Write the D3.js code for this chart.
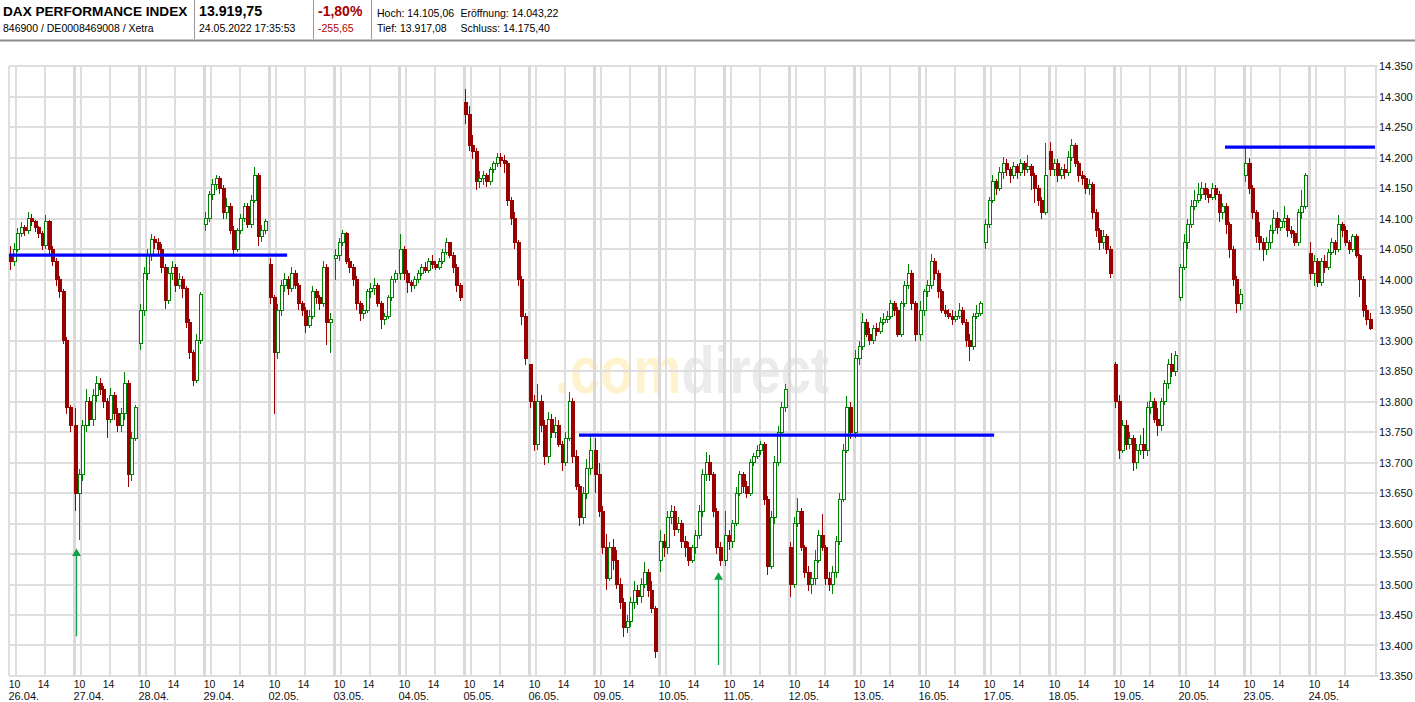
<!DOCTYPE html>
<html><head><meta charset="utf-8">
<script src="https://cdn.jsdelivr.net/npm/d3@7"></script>
<style>
body{margin:0;background:#fff;}
svg{display:block;font-family:"Liberation Sans",Arial,Helvetica,sans-serif;}
</style>
</head><body>
<svg id="chart" width="1415" height="702"></svg>
<script>
// ---------------- DATA ----------------
const days = ["26.04.","27.04.","28.04.","29.04.","02.05.","03.05.","04.05.","05.05.","06.05.","09.05.","10.05.","11.05.","12.05.","13.05.","16.05.","17.05.","18.05.","19.05.","20.05.","23.05.","24.05."];
const hourTicks = [10, 14];
const yTicks = [13350,13400,13450,13500,13550,13600,13650,13700,13750,13800,13850,13900,13950,14000,14050,14100,14150,14200,14250,14300,14350];

const opens = [
[14040,14030,14050,14075,14085,14080,14100,14095,14085,14075,14055,14095,14050,14030,14000,13980,13900,13790],
[13760,13650,13680,13760,13800,13770,13810,13830,13820,13800,13770,13810,13780,13760,13780,13830,13680,13740],
[13895,13950,14010,14040,14065,14060,14050,14020,13965,14010,14020,13990,14000,13985,13930,13880,13835,13900],
[14090,14100,14140,14155,14165,14150,14110,14120,14080,14050,14080,14100,14120,14090,14130,14170,14070,14080],
[14025,13970,13880,13950,13990,14000,13985,14010,13990,13960,13950,13925,13940,13980,13970,13960,14020,13930],
[14035,14040,14060,14075,14030,14020,14000,13960,13945,13950,13980,13985,13990,13960,13935,13940,13970,14000],
[14010,14050,14010,13995,13990,14000,14010,14020,14015,14030,14025,14020,14030,14045,14060,14040,14020,13990],
[14290,14270,14220,14210,14160,14165,14170,14160,14180,14190,14200,14195,14190,14130,14100,14060,14000,13940],
[13860,13800,13730,13800,13760,13710,13770,13750,13760,13730,13700,13740,13800,13710,13660,13610,13650,13690],
[13720,13680,13620,13560,13510,13560,13540,13500,13470,13430,13440,13470,13490,13480,13500,13520,13490,13460],
[13540,13570,13560,13610,13620,13590,13600,13570,13560,13540,13560,13580,13620,13680,13700,13680,13620,13560],
[13540,13580,13570,13600,13650,13680,13660,13650,13700,13710,13720,13730,13640,13530,13610,13700,13750,13790],
[13560,13500,13600,13620,13560,13520,13500,13510,13540,13580,13560,13510,13500,13520,13570,13640,13720,13790],
[13750,13870,13890,13930,13910,13900,13920,13915,13930,13935,13940,13960,13950,13910,13960,13990,14010,13960],
[13910,13950,13980,13990,14030,14010,13980,13950,13945,13940,13935,13940,13950,13930,13900,13890,13940,13945],
[14060,14090,14130,14160,14150,14175,14190,14180,14170,14185,14175,14190,14180,14185,14170,14150,14130,14110],
[14210,14180,14190,14170,14180,14175,14200,14220,14190,14170,14165,14150,14155,14110,14080,14060,14070,14050],
[13860,13800,13720,13760,13730,13740,13700,13720,13730,13720,13790,13800,13770,13760,13800,13830,13860,13850],
[13970,14020,14060,14090,14120,14130,14140,14150,14140,14135,14150,14140,14110,14120,14090,14050,14000,13960],
[14170,14190,14150,14110,14070,14060,14050,14060,14080,14100,14085,14095,14100,14080,14075,14060,14110,14120],
[14043,14010,14030,13995,14030,14020,14045,14060,14050,14090,14080,14060,14050,14070,14040,14000,13950,13935]
];
const highs = [
[14055,14060,14085,14095,14090,14110,14108,14098,14088,14080,14105,14098,14055,14035,14005,13985,13905,13795],
[13790,13690,13770,13820,13808,13820,13842,13838,13825,13805,13822,13815,13790,13790,13848,13835,13750,13795],
[13960,14020,14050,14075,14072,14068,14058,14025,14020,14030,14025,14010,14005,13990,13935,13885,13910,13980],
[14110,14145,14165,14172,14170,14155,14133,14126,14088,14085,14107,14126,14125,14139,14185,14175,14090,14100],
[14035,13975,13960,14000,14010,14005,14020,14015,13995,13965,13955,13950,13990,13985,13975,14030,14025,13945],
[14050,14068,14081,14078,14035,14025,14005,13965,13958,13985,13995,14003,13995,13965,13945,13975,14005,14016],
[14075,14055,14015,14000,14005,14015,14025,14028,14036,14040,14030,14035,14050,14068,14062,14045,14025,13995],
[14312,14285,14237,14215,14178,14178,14175,14185,14195,14207,14207,14204,14195,14135,14110,14065,14005,13945],
[13862,13810,13829,13810,13770,13783,13780,13775,13770,13735,13750,13816,13805,13720,13665,13660,13706,13744],
[13740,13699,13628,13582,13570,13575,13556,13510,13478,13450,13480,13505,13500,13510,13537,13525,13505,13465],
[13590,13582,13620,13630,13628,13610,13605,13580,13569,13565,13590,13630,13690,13718,13712,13685,13625,13570],
[13621,13590,13605,13660,13686,13685,13670,13705,13715,13728,13735,13733,13645,13620,13710,13760,13800,13829],
[13570,13610,13641,13625,13565,13530,13520,13556,13590,13615,13565,13520,13531,13580,13650,13730,13809,13800],
[13885,13900,13945,13935,13920,13926,13928,13939,13945,13948,13967,13965,13955,13965,13997,14026,14015,13965],
[13965,13985,14000,14042,14035,14015,13985,13958,13952,13950,13948,13961,13955,13935,13910,13945,13958,13965],
[14100,14135,14172,14165,14185,14201,14198,14185,14192,14190,14198,14195,14204,14190,14175,14155,14135,14224],
[14225,14198,14198,14185,14190,14210,14230,14224,14195,14178,14170,14165,14160,14115,14085,14081,14075,14055],
[13865,13810,13770,13770,13750,13745,13730,13745,13757,13800,13816,13805,13790,13805,13835,13870,13880,13882],
[14025,14075,14100,14130,14146,14159,14160,14158,14148,14159,14155,14145,14126,14125,14095,14055,14005,13985],
[14215,14200,14155,14114,14094,14068,14070,14090,14114,14110,14100,14120,14105,14088,14080,14115,14146,14175],
[14062,14040,14035,14035,14040,14050,14068,14065,14105,14095,14088,14065,14075,14075,14042,14005,13958,13945]
];
const lows = [
[14015,14022,14045,14070,14072,14075,14088,14078,14068,14048,14050,14042,14022,13990,13970,13895,13780,13750],
[13620,13573,13670,13750,13760,13760,13800,13810,13790,13740,13765,13770,13750,13750,13770,13660,13670,13735],
[13885,13940,14000,14030,14050,14040,14010,13952,13960,14000,13980,13985,13970,13920,13870,13825,13830,13895],
[14080,14095,14130,14146,14140,14100,14100,14075,14042,14045,14075,14095,14085,14085,14125,14055,14062,14075],
[13960,13780,13870,13940,13980,13975,13980,13985,13950,13940,13913,13920,13935,13960,13950,13955,13893,13880],
[14000,14030,14055,14025,14010,13990,13950,13932,13935,13945,13970,13975,13955,13919,13925,13935,13965,13995],
[14000,14000,13978,13980,13985,13995,14005,14010,14010,14018,14015,14015,14025,14040,14035,14010,13980,13965],
[14255,14210,14198,14146,14150,14155,14152,14155,14175,14185,14185,14175,14120,14090,14050,13990,13925,13860],
[13790,13719,13720,13750,13696,13700,13740,13740,13725,13686,13695,13735,13700,13655,13596,13600,13640,13680],
[13650,13610,13550,13491,13505,13524,13492,13460,13414,13420,13430,13460,13466,13470,13495,13480,13453,13380],
[13520,13545,13550,13600,13580,13585,13560,13545,13531,13535,13550,13575,13610,13670,13670,13610,13550,13530],
[13530,13556,13560,13596,13645,13650,13641,13645,13695,13705,13712,13630,13515,13525,13600,13695,13745,13783],
[13479,13495,13595,13555,13510,13490,13485,13500,13535,13555,13500,13490,13485,13510,13565,13635,13715,13738],
[13740,13860,13885,13905,13893,13895,13908,13910,13925,13928,13935,13940,13905,13905,13955,13985,13950,13900],
[13900,13940,13971,13985,14000,13970,13945,13939,13935,13926,13930,13935,13925,13890,13867,13885,13935,13940],
[14050,14085,14125,14139,14145,14165,14170,14159,14165,14165,14170,14170,14175,14146,14126,14120,14100,14105],
[14170,14170,14160,14165,14165,14170,14195,14185,14160,14155,14140,14139,14100,14070,14049,14050,14042,14003],
[13790,13706,13715,13720,13722,13686,13690,13712,13706,13710,13780,13764,13744,13751,13795,13820,13840,13842],
[13965,14015,14050,14085,14114,14126,14132,14130,14126,14130,14130,14094,14100,14075,14036,13990,13945,13950],
[14160,14140,14100,14060,14049,14030,14040,14050,14075,14075,14080,14085,14070,14068,14055,14055,14100,14115],
[14000,13990,13987,13990,14010,14015,14040,14040,14045,14070,14055,14042,14045,14035,13971,13939,13926,13917]
];
const closes = [
[14030,14050,14075,14085,14080,14100,14095,14085,14075,14055,14095,14050,14030,14000,13980,13900,13790,13760],
[13650,13680,13760,13800,13770,13810,13830,13820,13800,13770,13810,13780,13760,13780,13830,13680,13740,13790],
[13950,14010,14040,14065,14060,14050,14020,13965,14010,14020,13990,14000,13985,13930,13880,13835,13900,13975],
[14100,14140,14155,14165,14150,14110,14120,14080,14050,14080,14100,14120,14090,14130,14170,14070,14080,14095],
[13970,13880,13950,13990,14000,13985,14010,13990,13960,13950,13925,13940,13980,13970,13960,14020,13930,13935],
[14040,14060,14075,14030,14020,14000,13960,13945,13950,13980,13985,13990,13960,13935,13940,13970,14000,14010],
[14050,14010,13995,13990,14000,14010,14020,14015,14030,14025,14020,14030,14045,14060,14040,14020,13990,13970],
[14270,14220,14210,14160,14165,14170,14160,14180,14190,14200,14195,14190,14130,14100,14060,14000,13940,13870],
[13800,13730,13800,13760,13710,13770,13750,13760,13730,13700,13740,13800,13710,13660,13610,13650,13690,13720],
[13680,13620,13560,13510,13560,13540,13500,13470,13430,13440,13470,13490,13480,13500,13520,13490,13460,13390],
[13570,13560,13610,13620,13590,13600,13570,13560,13540,13560,13580,13620,13680,13700,13680,13620,13560,13540],
[13580,13570,13600,13650,13680,13660,13650,13700,13710,13720,13730,13640,13530,13610,13700,13750,13790,13820],
[13500,13600,13620,13560,13520,13500,13510,13540,13580,13560,13510,13500,13520,13570,13640,13720,13790,13750],
[13870,13890,13930,13910,13900,13920,13915,13930,13935,13940,13960,13950,13910,13960,13990,14010,13960,13910],
[13950,13980,13990,14030,14010,13980,13950,13945,13940,13935,13940,13950,13930,13900,13890,13940,13945,13960],
[14090,14130,14160,14150,14175,14190,14180,14170,14185,14175,14190,14180,14185,14170,14150,14130,14110,14170],
[14180,14190,14170,14180,14175,14200,14220,14190,14170,14165,14150,14155,14110,14080,14060,14070,14050,14010],
[13800,13720,13760,13730,13740,13700,13720,13730,13720,13790,13800,13770,13760,13800,13830,13860,13850,13875],
[14020,14060,14090,14120,14130,14140,14150,14140,14135,14150,14140,14110,14120,14090,14050,14000,13960,13975],
[14190,14150,14110,14070,14060,14050,14060,14080,14100,14085,14095,14100,14080,14075,14060,14110,14120,14170],
[14010,14030,13995,14030,14020,14045,14060,14050,14090,14080,14060,14050,14070,14040,14000,13950,13935,13920]
];

// horizontal levels: value, start [dayIndex, hour], end [dayIndex, hour]
const levelValues = [14040, 13745, 14217];
const levelStarts = [[0, 9.1], [8, 16.0], [18, 15.45]];
const levelEnds   = [[4, 11.6], [15, 10.5], [20, 18.2]];

// arrows: [dayIndex, hour], tip value, tail value
const arrowTimes = [[1, 9.38], [10, 17.25]];
const arrowTips  = [13559, 13520];
const arrowTails = [13415, 13368];

const header = {
  name: "DAX PERFORMANCE INDEX", ids: "846900 / DE0008469008 / Xetra",
  last: "13.919,75", time: "24.05.2022 17:35:53",
  pct: "-1,80%", chg: "-255,65",
  high: "Hoch: 14.105,06", open: "Eröffnung: 14.043,22",
  low: "Tief: 13.917,08", prevClose: "Schluss: 14.175,40"
};

// ---------------- DRAW ----------------
const svg = d3.select("#chart");
const W = 1415, H = 702;
const plotL = 9, plotR = 1376, plotT = 66, plotB = 676;

const de = d3.formatLocale({decimal: ",", thousands: ".", grouping: [3], currency: ["", "€"]});
const fmt = de.format(",");

const y = d3.scaleLinear().domain([13350, 14350]).range([plotB, plotT]);
const dayBand = d3.scaleBand().domain(d3.range(days.length)).range([7.5, 7.5 + 65 * days.length]).padding(0);
const candleBand = d3.scaleBand().domain(d3.range(18)).range([1, 64]).padding(0);
const hourX = d3.scaleLinear().domain([10, 14]).range([8, 37]);
const xt = (d, h) => dayBand(d) + hourX(h);

// header
const hd = svg.append("g");
hd.append("text").attr("x", 3).attr("y", 15.5).attr("font-size", 13.6).attr("font-weight", "bold").text(header.name);
hd.append("text").attr("x", 3).attr("y", 32).attr("font-size", 10.5).text(header.ids);
hd.append("text").attr("x", 199).attr("y", 15.5).attr("font-size", 14.2).attr("font-weight", "bold").text(header.last);
hd.append("text").attr("x", 199).attr("y", 32).attr("font-size", 10.5).text(header.time);
hd.append("text").attr("x", 318).attr("y", 15.5).attr("font-size", 14).attr("font-weight", "bold").attr("fill", "#a50000").text(header.pct);
hd.append("text").attr("x", 318).attr("y", 32).attr("font-size", 10.5).attr("fill", "#b00000").text(header.chg);
hd.append("text").attr("x", 377).attr("y", 16.5).attr("font-size", 10.5).text(header.high);
hd.append("text").attr("x", 460.5).attr("y", 16.5).attr("font-size", 10.5).text(header.open);
hd.append("text").attr("x", 377).attr("y", 31.5).attr("font-size", 10.5).text(header.low);
hd.append("text").attr("x", 460.5).attr("y", 31.5).attr("font-size", 10.5).text(header.prevClose);
[194.5, 313.5, 371.5].forEach(x => hd.append("line").attr("x1", x).attr("x2", x).attr("y1", 0).attr("y2", 39).attr("stroke", "#999").attr("stroke-width", 1));
hd.append("rect").attr("x", 0).attr("y", 39.5).attr("width", W).attr("height", 2).attr("fill", "#8c8c8c");

// watermark: one text, two-colour fill via hard-stop gradient
const defs = svg.append("defs");
const grad = defs.append("linearGradient").attr("id", "wmGrad")
  .attr("gradientUnits", "userSpaceOnUse").attr("x1", 555).attr("x2", 829).attr("y1", 0).attr("y2", 0);
grad.append("stop").attr("offset", 0).attr("stop-color", "#fff3cf");
grad.append("stop").attr("offset", 0.458).attr("stop-color", "#fff3cf");
grad.append("stop").attr("offset", 0.458).attr("stop-color", "#ebebeb");
grad.append("stop").attr("offset", 1).attr("stop-color", "#ebebeb");
svg.append("text").attr("x", 555).attr("y", 393)
  .attr("font-weight", "bold").attr("font-size", 66)
  .attr("textLength", 274).attr("lengthAdjust", "spacingAndGlyphs")
  .attr("fill", "url(#wmGrad)").text(".comdirect");

// grid
const grid = svg.append("g").attr("shape-rendering", "crispEdges");
grid.selectAll("line.h").data(yTicks).join("line")
  .attr("x1", plotL).attr("x2", plotR + 2)
  .attr("y1", d => Math.round(y(d))).attr("y2", d => Math.round(y(d)))
  .attr("stroke", "#dedede").attr("stroke-width", 2);
grid.append("line").attr("x1", plotL).attr("x2", plotL).attr("y1", plotT).attr("y2", plotB).attr("stroke", "#dedede").attr("stroke-width", 2);
grid.append("line").attr("x1", plotR).attr("x2", plotR).attr("y1", plotT - 1).attr("y2", plotB + 1).attr("stroke", "#dedede").attr("stroke-width", 2);
const hourData = [];
days.forEach((d, i) => hourTicks.forEach(h => hourData.push([i, h])));
grid.selectAll("line.v").data(hourData).join("line")
  .attr("x1", d => Math.round(xt(d[0], d[1]))).attr("x2", d => Math.round(xt(d[0], d[1])))
  .attr("y1", plotT).attr("y2", plotB)
  .attr("stroke", "#dedede").attr("stroke-width", 2);
grid.selectAll("rect.sep").data(d3.range(1, days.length)).join("rect")
  .attr("x", d => Math.round(dayBand(d))).attr("y", plotT).attr("width", 3).attr("height", plotB - plotT)
  .attr("fill", "#d9d9d9");

// y axis labels
const yAxis = d3.axisRight(y).tickValues(yTicks).tickFormat(fmt).tickSize(2).tickPadding(1);
const ya = svg.append("g").attr("transform", `translate(${plotR},0)`).call(yAxis);
ya.select(".domain").remove();
ya.selectAll(".tick line").attr("stroke", "#dedede");
ya.selectAll("text").attr("font-size", 11).attr("font-family", "Liberation Sans, Arial, sans-serif").attr("fill", "#111");

// x labels
const xl = svg.append("g").attr("fill", "#111");
xl.selectAll("text.h").data(hourData).join("text")
  .attr("x", d => xt(d[0], d[1]) - 1).attr("y", 688).attr("text-anchor", "middle").attr("font-size", 10.5)
  .text(d => d[1]);
xl.selectAll("text.d").data(days).join("text")
  .attr("x", (d, i) => dayBand(i) + 1).attr("y", 699.5).attr("font-size", 11)
  .text(d => d);

// candles
const candles = [];
days.forEach((d, di) => closes[di].forEach((c, ci) => candles.push({
  di, ci, o: opens[di][ci], h: highs[di][ci], l: lows[di][ci], c
})));
const cx = d => dayBand(d.di) + candleBand(d.ci) + candleBand.bandwidth() / 2;
const cg = svg.append("g").attr("shape-rendering", "crispEdges");
const RED = "#990000", GREEN = "#008000";
candles.forEach(d => {
  const up = d.c >= d.o;
  const x = Math.round(cx(d));
  const col = up ? GREEN : RED;
  cg.append("line").attr("x1", x + 0.5).attr("x2", x + 0.5).attr("y1", y(d.h)).attr("y2", y(d.l)).attr("stroke", col).attr("stroke-width", 1.2);
  const top = y(Math.max(d.o, d.c)), bot = y(Math.min(d.o, d.c));
  if (up) {
    cg.append("rect").attr("x", x - 1).attr("y", top).attr("width", 3).attr("height", Math.max(1, bot - top))
      .attr("fill", "#fff").attr("stroke", col).attr("stroke-width", 1);
  } else {
    cg.append("rect").attr("x", x - 1.5).attr("y", top - 0.5).attr("width", 4).attr("height", Math.max(2, bot - top + 1))
      .attr("fill", col);
  }
});

// levels
svg.append("g").selectAll("line").data(levelValues).join("line")
  .attr("x1", (v, i) => xt(levelStarts[i][0], levelStarts[i][1]))
  .attr("x2", (v, i) => Math.min(plotR - 1, xt(levelEnds[i][0], levelEnds[i][1])))
  .attr("y1", v => y(v)).attr("y2", v => y(v))
  .attr("stroke", "#0000ff").attr("stroke-width", 3.2);

// arrows
const ag = svg.append("g");
arrowTimes.forEach((t, i) => {
  const x = Math.round(xt(t[0], t[1])) + 0.5;
  const yt = y(arrowTips[i]), yb = y(arrowTails[i]);
  ag.append("line").attr("x1", x).attr("x2", x).attr("y1", yt + 5).attr("y2", yb).attr("stroke", "#13a04b").attr("stroke-width", 1.3);
  ag.append("path").attr("d", `M${x},${yt} L${x - 4.5},${yt + 7.5} L${x + 4.5},${yt + 7.5} Z`).attr("fill", "#13a04b");
});
</script>
</body></html>
